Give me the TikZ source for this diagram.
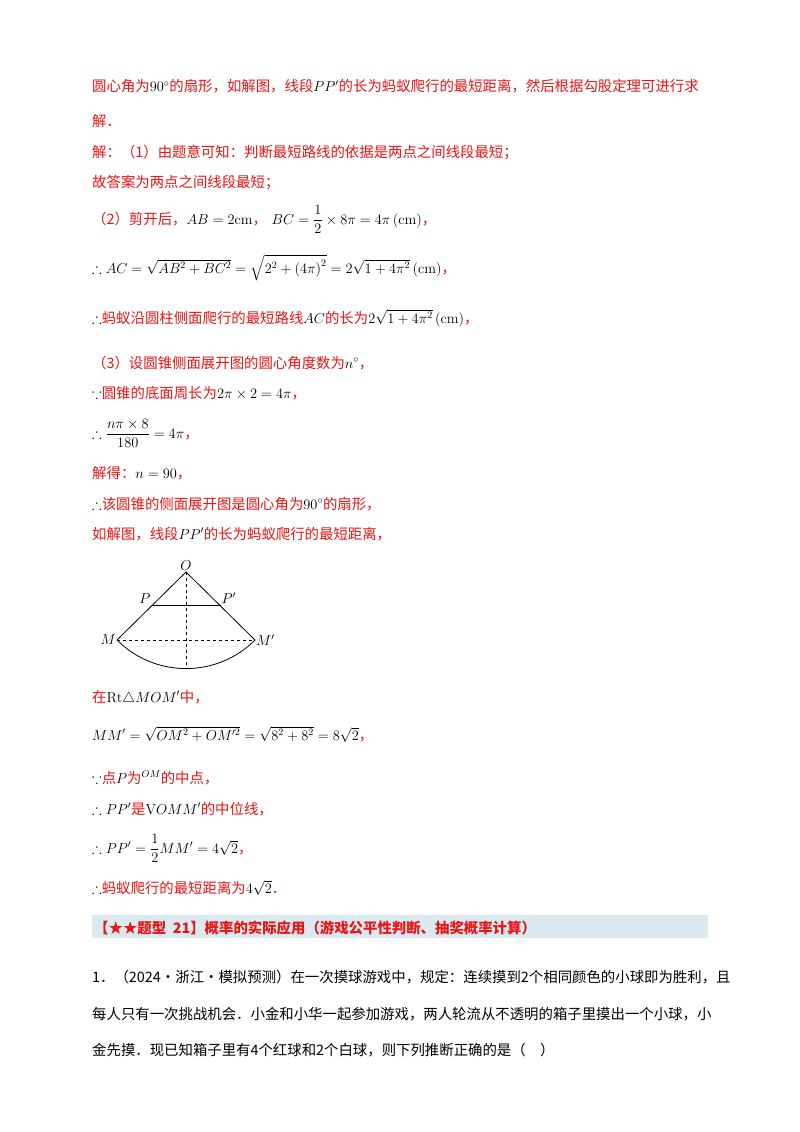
\documentclass[tikz,border=0pt]{standalone}
\usepackage{amsmath,amssymb}
\usepackage{fontspec}
\newfontfamily\cjk{Noto Sans CJK SC}
\definecolor{rd}{RGB}{235,20,20}
\definecolor{band}{RGB}{218,234,240}
\newcommand{\R}[1]{{\color{rd}\cjk #1}}
\begin{document}
\begin{tikzpicture}[x=1pt,y=-1pt,
  t/.style={anchor=base west,inner sep=0pt,font=\fontsize{14.4}{16}\selectfont},
  lbl/.style={inner sep=1pt,font=\fontsize{14}{16}\selectfont\itshape}]
\useasboundingbox[fill=white] (0,0) rectangle (800,1132);
\node[t] (l1) at (92,92) {\R{圆心角为}$90^\circ$\R{的扇形，如解图，线段}$PP'$\R{的长为蚂蚁爬行的最短距离，然后根据勾股定理可进行求}};
\node[t] (l2) at (92,126) {\R{解．}};
\node[t] (l3) at (92,157) {\R{解：（1）由题意可知：判断最短路线的依据是两点之间线段最短；}};
\node[t] (l4) at (92,187) {\R{故答案为两点之间线段最短；}};
\node[t] (l5) at (92,224) {\R{（2）剪开后，}$AB=2\mathrm{cm}$\R{，}\ $BC=\dfrac12\times8\pi=4\pi\left(\mathrm{cm}\right)$\R{，}};
\node[t] (l6) at (92,273) {$\therefore AC=\sqrt{AB^2+BC^2}=\sqrt{2^2+\left(4\pi\right)^2}=2\sqrt{1+4\pi^2}\left(\mathrm{cm}\right)$\R{，}};
\node[t] (l7) at (92,323) {$\therefore$\R{蚂蚁沿圆柱侧面爬行的最短路线}$AC$\R{的长为}$2\sqrt{1+4\pi^2}\left(\mathrm{cm}\right)$\R{，}};
\node[t] (l8) at (92,368) {\R{（3）设圆锥侧面展开图的圆心角度数为}$n^\circ$\R{，}};
\node[t] (l9) at (92,398) {$\because$\R{圆锥的底面周长为}$2\pi\times2=4\pi$\R{，}};
\node[t] (l10) at (92,438) {$\therefore\dfrac{n\pi\times8}{180}=4\pi$\R{，}};
\node[t] (l11) at (92,478) {\R{解得：}$n=90$\R{，}};
\node[t] (l12) at (92,509) {$\therefore$\R{该圆锥的侧面展开图是圆心角为}$90^\circ$\R{的扇形，}};
\node[t] (l13) at (92,539) {\R{如解图，线段}$PP'$\R{的长为蚂蚁爬行的最短距离，}};
% figure
\coordinate (O) at (186,572);
\coordinate (P) at (151.5,605);
\coordinate (Pp) at (220.5,605);
\coordinate (M) at (117,640);
\coordinate (Mp) at (255,640);
\coordinate (B) at (186,669);
\draw[line width=0.8pt] (M) -- (O) -- (Mp);
\draw[line width=0.8pt] (M) arc[start angle=135,end angle=45,radius=97.6];
\draw[line width=0.7pt] (P) -- (Pp);
\draw[dashed,line width=0.6pt] (O) -- (B);
\draw[dashed,line width=0.6pt] (M) -- (Mp);
\node[lbl,above] (oL) at (O) {$O$};
\node[lbl,anchor=south east] (pL) at (P) {$P$};
\node[lbl,anchor=south west] (ppL) at (Pp) {$P'$};
\node[lbl,anchor=east] (mL) at (M) {$M$};
\node[lbl,anchor=west] (mpL) at (Mp) {$M'$};
\node[t] (l14) at (92,702) {\R{在}$\mathrm{Rt}\triangle MOM'$\R{中，}};
\node[t] (l15) at (92,740) {$MM'=\sqrt{OM^2+OM'^2}=\sqrt{8^2+8^2}=8\sqrt2$\R{，}};
\node[t] (l16) at (92,783) {$\because$\R{点}$P$\R{为}$^{OM}$\R{的中点，}};
\node[t] (l17) at (92,814) {$\therefore PP'$\R{是}$\mathrm{V}OMM'$\R{的中位线，}};
\node[t] (l18) at (92,853) {$\therefore PP'=\dfrac12MM'=4\sqrt2$\R{，}};
\node[t] (l19) at (92,893) {$\therefore$\R{蚂蚁爬行的最短距离为}$4\sqrt2$\R{．}};
\fill[band] (92,915) rectangle (708,938);
\node[t] (h) at (94,933) {\color{rd}\cjk\bfseries 【★★题型\ \ 21】概率的实际应用（游戏公平性判断、抽奖概率计算）};
\node[t] (q1) at (92,982) {\cjk 1．（2024·浙江·模拟预测）在一次摸球游戏中，规定：连续摸到2个相同颜色的小球即为胜利，且};
\node[t] (q2) at (92,1019) {\cjk 每人只有一次挑战机会．小金和小华一起参加游戏，两人轮流从不透明的箱子里摸出一个小球，小};
\node[t] (q3) at (92,1055) {\cjk 金先摸．现已知箱子里有4个红球和2个白球，则下列推断正确的是（\quad ）};
\end{tikzpicture}
\end{document}
